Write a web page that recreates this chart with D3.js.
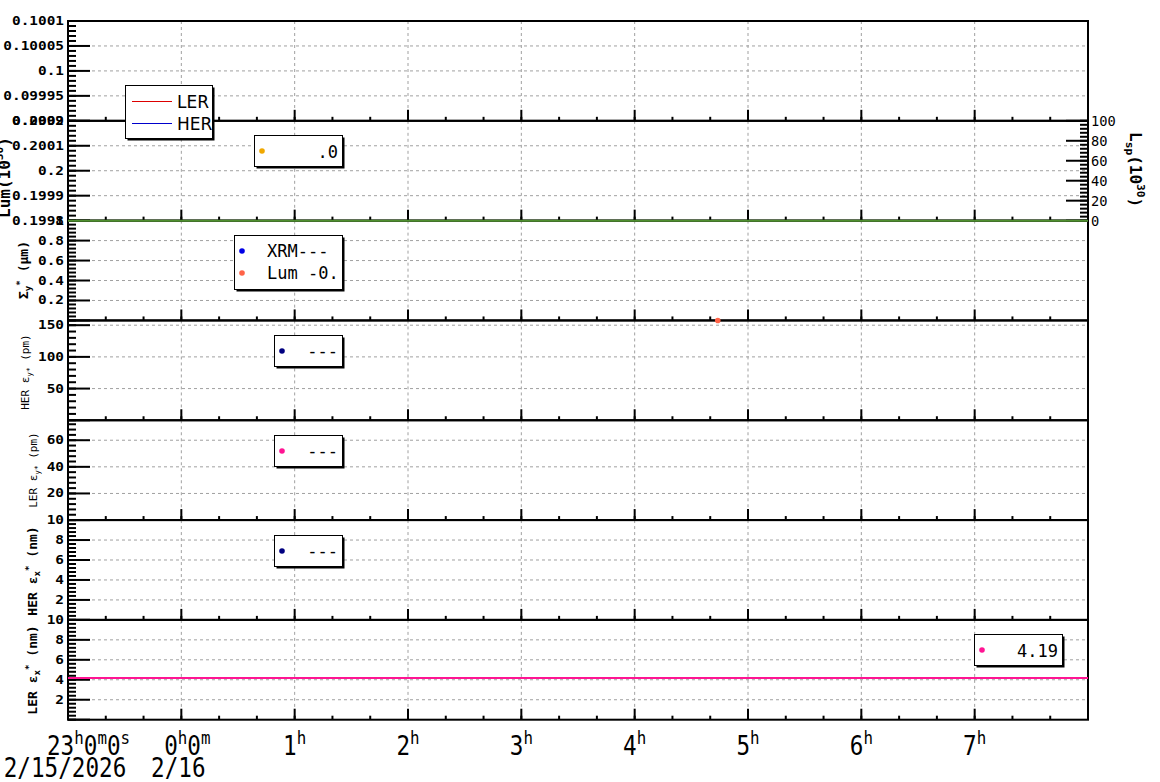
<!DOCTYPE html>
<html><head><meta charset="utf-8">
<script src="https://cdn.jsdelivr.net/npm/d3@7"></script>
<style>body{margin:0;background:#fff} svg{display:block} text{white-space:pre}</style>
</head><body><svg id="c" width="1160" height="782"></svg>
<script>
// ---------- DATA ----------
const timeDomain = ["2026-02-15T23:00:00Z", "2026-02-16T08:00:00Z"];
const hourTicks = ["2026-02-15T23:00:00Z","2026-02-16T00:00:00Z","2026-02-16T01:00:00Z","2026-02-16T02:00:00Z",
  "2026-02-16T03:00:00Z","2026-02-16T04:00:00Z","2026-02-16T05:00:00Z","2026-02-16T06:00:00Z","2026-02-16T07:00:00Z"];
const hourTickLabels = ["23^{h}0^{m}0^{s}","0^{h}0^{m}","1^{h}","2^{h}","3^{h}","4^{h}","5^{h}","6^{h}","7^{h}"];
const dateTickLabels = ["2/15/2026","2/16","","","","","","",""];

const panelTitles = ["", "Lum(10^{30})", "Σ_{y}^{*} (μm)", "HER ε_{y*} (pm)", "LER ε_{y*} (pm)", "HER ε_{x}^{*} (nm)", "LER ε_{x}^{*} (nm)"];
const panelDomains = [[0.0999,0.1001],[0.1998,0.2002],[0,1],[0,157.5],[0,75],[0,10],[0,10]];
const panelMajorTicks = [
  [0.0999,0.09995,0.1,0.10005,0.1001],
  [0.1998,0.1999,0.2,0.2001,0.2002],
  [0,0.2,0.4,0.6,0.8,1],
  [0,50,100,150],
  [0,20,40,60],
  [0,2,4,6,8,10],
  [0,2,4,6,8,10]];
const panelTickLabels = [
  ["0.0999","0.09995","0.1","0.10005","0.1001"],
  ["0.1998","0.1999","0.2","0.2001","0.2002"],
  ["","0.2","0.4","0.6","0.8","1"],
  ["","50","100","150"],
  ["","20","40","60"],
  ["","2","4","6","8","10"],
  ["","2","4","6","8","10"]];
const panelMinorSteps = [0.00001,0.00002,0.04,10,4,0.4,0.4];

// right axis of panel 2 (Lsp)
const rightTitle = "L_{sp}(10^{30})";
const rightDomain = [0,100];
const rightMajorTicks = [0,20,40,60,80,100];
const rightTickLabels = ["0","20","40","60","80","100"];
const rightMinorStep = 4;

// series
const lerLumTimes = [], lerLumValues = [];
const herLumTimes = [], herLumValues = [];
const lspTimes = ["2026-02-15T23:00:00Z","2026-02-16T08:00:00Z"];
const lspValues = [0, 0];
const lumOrangeTimes = [], lumOrangeValues = [];
const xrmSigmaTimes = [], xrmSigmaValues = [];
const lumSigmaTimes = ["2026-02-16T04:44:00Z"];
const lumSigmaValues = [0];
const herEyTimes = [], herEyValues = [];
const lerEyTimes = [], lerEyValues = [];
const herExTimes = [], herExValues = [];
const lerExTimes = ["2026-02-15T23:00:00Z","2026-02-16T08:00:00Z"];
const lerExValues = [4.19, 4.19];

// legend texts
const legend1Labels = ["LER","HER"];
const legend2Labels = [".0"];
const legend3Labels = ["XRM---","Lum -0."];
const legend4Labels = ["---"];
const legend5Labels = ["---"];
const legend6Labels = ["---"];
const legend7Labels = ["4.19"];

// ---------- LAYOUT ----------
const C = {red:"#dd0000", blue:"#0000cc", green:"#4f8f2f", orange:"#f0a800", xrm:"#0000e6",
  tomato:"#ff6347", navy:"#000080", pink:"#ff1493", grid:"#a0a0a0"};
const svg = d3.select("#c");
const L = 68, R = 1088, T = 21, B = 719.7, NP = 7, PH = (B - T) / NP;
const x = d3.scaleUtc().domain(timeDomain.map(d => new Date(d))).range([L, R]);
const minorX = d3.utcMinute.every(20).range(new Date(timeDomain[0]), new Date(timeDomain[1]));
const majorX = hourTicks.map(d => new Date(d));

function rich(sel, str, size) {
  const re = /([_^])\{([^}]*)\}|([^_^]+)/g; let m, cur = 0;
  while ((m = re.exec(str))) {
    let t, s = 0, fs = size;
    if (m[3] !== undefined) { t = m[3]; s = 0; }
    else { t = m[2]; fs = size * 0.7; s = m[1] === '^' ? -0.42 * size : 0.25 * size; }
    sel.append("tspan").attr("dy", s - cur).attr("font-size", fs).text(t);
    cur = s;
  }
}
function minorTicks(dom, step) {
  const out = [];
  for (let k = Math.ceil(dom[0] / step - 1e-6); k <= Math.floor(dom[1] / step + 1e-6); k++) out.push(k * step);
  return out;
}

const gGrid = svg.append("g"), gData = svg.append("g"), gAxes = svg.append("g");
const ys = [];
panelDomains.forEach((dom, i) => {
  const top = T + i * PH, bot = top + PH;
  const y = d3.scaleLinear().domain(dom).range([bot, top]);
  ys.push(y);
  panelMajorTicks[i].filter(v => y(v) > top + 1 && y(v) < bot - 1).forEach(v => {
    gGrid.append("line").attr("x1", L).attr("x2", R).attr("y1", y(v)).attr("y2", y(v))
      .attr("stroke", C.grid).attr("stroke-dasharray", "3,3");
  });
  majorX.filter(t => x(t) > L + 1).forEach(t => {
    gGrid.append("line").attr("x1", x(t)).attr("x2", x(t)).attr("y1", top).attr("y2", bot)
      .attr("stroke", C.grid).attr("stroke-dasharray", "3,3");
  });
  gAxes.append("rect").attr("x", L).attr("y", top).attr("width", R - L).attr("height", PH)
    .attr("fill", "none").attr("stroke", "#000").attr("stroke-width", 2);
  minorTicks(dom, panelMinorSteps[i]).forEach(v => {
    gAxes.append("line").attr("x1", L).attr("x2", L + 8).attr("y1", y(v)).attr("y2", y(v)).attr("stroke", "#000").attr("stroke-width", 2);
  });
  panelMajorTicks[i].forEach((v, j) => {
    gAxes.append("line").attr("x1", L).attr("x2", L + 22).attr("y1", y(v)).attr("y2", y(v)).attr("stroke", "#000").attr("stroke-width", 2);
    const lab = panelTickLabels[i][j];
    if (lab) gAxes.append("text").attr("transform", `translate(64,${y(v) + 4}) scale(1.2,1)`)
      .attr("text-anchor", "end").attr("font-family", "DejaVu Sans Mono").attr("font-weight", "bold")
      .attr("font-size", 12).attr("fill", "#000").text(lab);
  });
  minorX.forEach(t => gAxes.append("line").attr("x1", x(t)).attr("x2", x(t)).attr("y1", bot).attr("y2", bot - 4).attr("stroke", "#000").attr("stroke-width", 2));
  majorX.forEach(t => gAxes.append("line").attr("x1", x(t)).attr("x2", x(t)).attr("y1", bot).attr("y2", bot - 11).attr("stroke", "#000").attr("stroke-width", 2));
});

const titleStyle = [
  null,
  {size:16, bold:true, bx:10, start:218},
  {size:13, bold:true, bx:28, cy:270},
  {size:11, bold:false, bx:29, cy:372},
  {size:11, bold:false, bx:37, cy:470},
  {size:13, bold:true, bx:37, cy:571},
  {size:13, bold:true, bx:37, cy:670}];
panelTitles.forEach((t, i) => {
  if (!t) return;
  const st = titleStyle[i];
  const cy = st.start !== undefined ? st.start : st.cy;
  const tx = gAxes.append("text").attr("transform", `translate(${st.bx},${cy}) rotate(-90)`)
    .attr("text-anchor", st.start !== undefined ? "start" : "middle")
    .attr("font-family", "DejaVu Sans Mono").attr("font-weight", st.bold ? "bold" : "normal")
    .attr("font-size", st.size).attr("fill", "#000");
  rich(tx, t, st.size);
});

{
  const top = T + PH, bot = top + PH;
  const yr = d3.scaleLinear().domain(rightDomain).range([bot, top]);
  ys.push(yr);
  minorTicks(rightDomain, rightMinorStep).forEach(v => gAxes.append("line").attr("x1", R).attr("x2", R - 8).attr("y1", yr(v)).attr("y2", yr(v)).attr("stroke", "#000").attr("stroke-width", 2));
  rightMajorTicks.forEach((v, j) => {
    gAxes.append("line").attr("x1", R).attr("x2", R - 22).attr("y1", yr(v)).attr("y2", yr(v)).attr("stroke", "#000").attr("stroke-width", 2);
    gAxes.append("text").attr("x", 1091).attr("y", yr(v) + 5).attr("font-family", "DejaVu Sans Mono")
      .attr("font-size", 13.7).attr("fill", "#000").text(rightTickLabels[j]);
  });
  const tx = gAxes.append("text").attr("transform", `translate(1130,132) rotate(90)`)
    .attr("font-family", "DejaVu Sans Mono").attr("font-weight", "bold").attr("font-size", 16).attr("fill", "#000");
  rich(tx, rightTitle, 16);
}

majorX.forEach((t, i) => {
  const first = i === 0;
  const tx = gAxes.append("text")
    .attr("transform", `translate(${first ? x(t) - 21 : x(t) + (i === 1 ? 6 : 0)},755) scale(0.87,1)`)
    .attr("text-anchor", first ? "start" : "middle").attr("font-family", "DejaVu Sans Mono")
    .attr("font-size", 26).attr("fill", "#000");
  rich(tx, hourTickLabels[i], 26);
  if (dateTickLabels[i]) gAxes.append("text").attr("transform", `translate(${x(t) - 3},777) scale(0.87,1)`)
    .attr("text-anchor", "middle").attr("font-family", "DejaVu Sans Mono").attr("font-size", 26)
    .attr("fill", "#000").text(dateTickLabels[i]);
});

const line = (y) => d3.line().x(d => x(d[0])).y(d => y(d[1]));
const gTop = svg.append("g");
function drawLine(times, vals, y, color, w) {
  if (!times.length) return;
  const pts = times.map((t, k) => [new Date(t), vals[k]]);
  gTop.append("path").attr("d", line(y)(pts)).attr("fill", "none").attr("stroke", color).attr("stroke-width", w);
}
function drawPts(times, vals, y, color) {
  times.forEach((t, k) => gTop.append("circle").attr("cx", x(new Date(t))).attr("cy", y(vals[k])).attr("r", 2.8).attr("fill", color));
}
drawLine(lerLumTimes, lerLumValues, ys[0], C.red, 1);
drawLine(herLumTimes, herLumValues, ys[0], C.blue, 1);
drawLine(lspTimes, lspValues, ys[7], C.green, 2);
drawLine(lerExTimes, lerExValues, ys[6], C.pink, 2);
drawPts(lumOrangeTimes, lumOrangeValues, ys[1], C.orange);
drawPts(xrmSigmaTimes, xrmSigmaValues, ys[2], C.xrm);
drawPts(lumSigmaTimes, lumSigmaValues, ys[2], C.tomato);
drawPts(herEyTimes, herEyValues, ys[3], C.navy);
drawPts(lerEyTimes, lerEyValues, ys[4], C.pink);
drawPts(herExTimes, herExValues, ys[5], C.navy);

const gL = svg.append("g");
function legendBox(x0, y0, x1, y1) {
  gL.append("rect").attr("x", x0 + 2).attr("y", y0 + 2).attr("width", x1 - x0).attr("height", y1 - y0).attr("fill", "#000");
  gL.append("rect").attr("x", x0).attr("y", y0).attr("width", x1 - x0).attr("height", y1 - y0)
    .attr("fill", "#fff").attr("stroke", "#000").attr("stroke-width", 1);
}
function legText(xp, yp, t, anchor, fam) {
  gL.append("text").attr("x", xp).attr("y", yp).attr("text-anchor", anchor || "start")
    .attr("font-family", fam || "DejaVu Sans Mono").attr("font-size", 17).attr("fill", "#000").text(t);
}
function dot(cx, cy, col) { gL.append("circle").attr("cx", cx).attr("cy", cy).attr("r", 2.8).attr("fill", col); }

legendBox(125.5, 85.5, 212.5, 138.5);
[[C.red, 101.5], [C.blue, 123.5]].forEach(([c, yy], k) => {
  gL.append("line").attr("x1", 132).attr("x2", 172).attr("y1", yy).attr("y2", yy).attr("stroke", c).attr("stroke-width", 1);
  legText(177, yy + 6, legend1Labels[k], "start", "DejaVu Sans");
});
legendBox(254.5, 135.5, 342.5, 166.5);
dot(262, 151, C.orange); legText(338, 158, legend2Labels[0], "end");
legendBox(234.5, 235.5, 342.5, 289.5);
dot(242, 251, C.xrm); legText(267, 257, legend3Labels[0]);
dot(242, 273, C.tomato); legText(267, 279, legend3Labels[1]);
legendBox(274.5, 335.5, 342.5, 366.5);
dot(282, 351, C.navy); legText(338, 357, legend4Labels[0], "end");
legendBox(274.5, 435.5, 342.5, 466.5);
dot(282, 451, C.pink); legText(338, 457, legend5Labels[0], "end");
legendBox(274.5, 535.5, 342.5, 566.5);
dot(282, 551, C.navy); legText(338, 557, legend6Labels[0], "end");
legendBox(974.5, 634.5, 1062.5, 665.5);
dot(982, 650, C.pink); legText(1058, 657, legend7Labels[0], "end");
</script></body></html>
